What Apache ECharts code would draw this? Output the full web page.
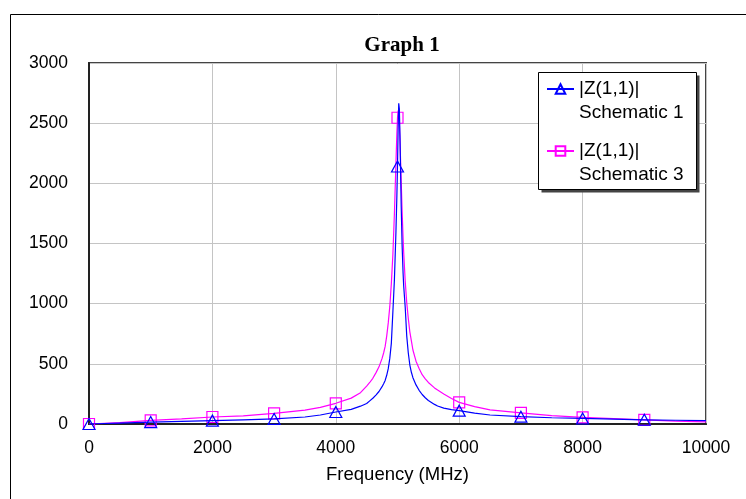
<!DOCTYPE html>
<html>
<head>
<meta charset="utf-8">
<script src="https://cdn.jsdelivr.net/npm/echarts@6/dist/echarts.min.js"></script>
<style>
html, body { margin: 0; padding: 0; background: #fff; }
#myChart { width: 746px; height: 499px; }
</style>
</head>
<body>
<div id="myChart"></div>
<script>
// frequency points (MHz)
const freqs = [0, 250, 500, 1000, 1500, 2000, 2500, 3000, 3500, 3750,
  4000, 4250, 4400, 4500, 4550, 4600, 4650, 4700, 4750, 4775,
  4800, 4825, 4850, 4875, 4900, 4925, 4950, 4975, 4990, 5000,
  5010, 5020, 5030, 5040, 5050, 5060, 5075, 5090, 5100, 5125,
  5150, 5175, 5200, 5225, 5250, 5300, 5350, 5400, 5450, 5500,
  5600, 5650, 5750, 5875, 6000, 6250, 6500, 7000, 7500, 8000,
  8500, 9000, 9500, 10000];
// |Z(1,1)| Schematic 1
const schematic1 = [0, 4, 8, 16, 22, 28, 35, 42, 58, 75,
  100, 122, 148, 170, 192, 214, 240, 270, 310, 335,
  362, 405, 460, 545, 670, 930, 1200, 1600, 1900, 2140,
  2450, 2665, 2620, 2400, 2100, 1810, 1480, 1260, 1150, 970,
  730, 590, 490, 430, 385, 325, 280, 245, 218, 195,
  163, 150, 132, 120, 111, 90, 75, 61, 52, 46,
  40, 35, 31, 28];
// |Z(1,1)| Schematic 3
const schematic3 = [0, 6, 12, 30, 42, 58, 68, 88, 115, 138,
  172, 215, 260, 315, 345, 380, 425, 475, 545, 590,
  645, 730, 840, 975, 1165, 1407, 1750, 2170, 2419, 2545,
  2605, 2590, 2500, 2357, 2188, 2017, 1763, 1554, 1430, 1185,
  1008, 877, 766, 690, 615, 522, 462, 410, 375, 345,
  300, 282, 250, 212, 180, 145, 118, 92, 70, 55,
  44, 34, 24, 17];
const markerFreqs = [0, 1000, 2000, 3000, 4000, 5000, 6000, 7000, 8000, 9000];
const xTicks = [0, 2000, 4000, 6000, 8000, 10000];
const yTicks = [0, 500, 1000, 1500, 2000, 2500, 3000];
const seriesNames = ["|Z(1,1)|\nSchematic 1", "|Z(1,1)|\nSchematic 3"];

let myChart = echarts.init(document.getElementById("myChart"));

function buildData(values, symbol) {
  return freqs.map((f, i) => ({
    value: [f, values[i]],
    symbol: markerFreqs.indexOf(f) >= 0 ? symbol : "none",
  }));
}

const axisFont = {
  fontFamily: "Liberation Sans",
  fontSize: 17.5,
  color: "#000",
  formatter: (v) => String(v),
};

myChart.setOption({
  animation: false,
  title: {
    text: "Graph 1",
    left: 397,
    textAlign: "center",
    top: 30,
    textStyle: { fontFamily: "Liberation Serif", fontWeight: "bold", fontSize: 21, color: "#000" },
  },
  grid: {
    left: 89,
    right: 40,
    top: 63,
    bottom: 75,
    show: true,
    borderColor: "#444",
    borderWidth: 2,
  },
  legend: {
    data: seriesNames,
    orient: "vertical",
    left: 546,
    top: 53,
    padding: 0,
    itemGap: -10,
    itemWidth: 27,
    itemHeight: 12,
    z: 10,
    // empty first line so the icon sits beside "|Z(1,1)|"
    formatter: (name) => "\n" + name,
    textStyle: {
      fontFamily: "Liberation Sans",
      fontSize: 19,
      color: "#000",
      lineHeight: 24,
    },
  },
  graphic: [
    // outer frame
    { type: "rect", z: 0, shape: { x: 10.5, y: 14.5, width: 800, height: 600 }, style: { fill: null, stroke: "#000", lineWidth: 1 } },
    // legend shadow + box
    { type: "rect", z: 8, shape: { x: 541.5, y: 75.5, width: 158, height: 117 }, style: { fill: "#444" } },
    { type: "rect", z: 9, shape: { x: 538.5, y: 72.5, width: 158, height: 117 }, style: { fill: "#fff", stroke: "#000", lineWidth: 1 } },
  ],
  xAxis: {
    type: "value",
    min: xTicks[0],
    max: xTicks[xTicks.length - 1],
    interval: 2000,
    name: "Frequency (MHz)",
    nameLocation: "middle",
    nameGap: 41,
    nameTextStyle: { fontFamily: "Liberation Sans", fontSize: 18.5, color: "#000" },
    axisLine: { lineStyle: { color: "#222", width: 2 } },
    axisTick: { show: false },
    axisLabel: Object.assign({ margin: 15 }, axisFont),
    splitLine: { show: true, lineStyle: { color: "#c4c4c4", width: 1 } },
  },
  yAxis: {
    type: "value",
    min: yTicks[0],
    max: yTicks[yTicks.length - 1],
    interval: 500,
    axisLine: { show: true, lineStyle: { color: "#222", width: 2 } },
    axisTick: { show: false },
    axisLabel: Object.assign({ margin: 21 }, axisFont),
    splitLine: { show: true, lineStyle: { color: "#c4c4c4", width: 1 } },
  },
  series: [
    {
      name: seriesNames[0],
      type: "line",
      z: 4,
      showAllSymbol: true,
      symbol: "triangle",
      symbolSize: [12, 11],
      color: "#0000ff",
      lineStyle: { color: "#0000ff", width: 1.2 },
      itemStyle: { color: "rgba(0,0,0,0)", borderColor: "#0000ff", borderWidth: 1.2 },
      data: buildData(schematic1, "triangle"),
    },
    {
      name: seriesNames[1],
      type: "line",
      z: 3,
      showAllSymbol: true,
      symbol: "rect",
      symbolSize: 11,
      color: "#ff00ff",
      lineStyle: { color: "#ff00ff", width: 1.2 },
      itemStyle: { color: "rgba(0,0,0,0)", borderColor: "#ff00ff", borderWidth: 1.2 },
      data: buildData(schematic3, "rect"),
    },
  ],
});
</script>
</body>
</html>
